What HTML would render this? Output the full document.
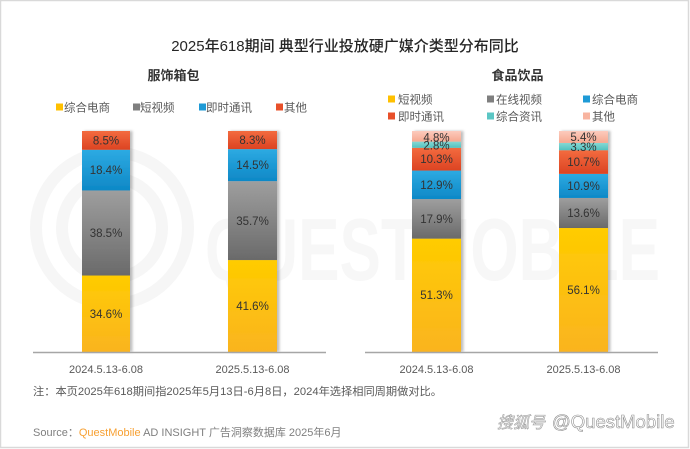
<!DOCTYPE html>
<html><head><meta charset="utf-8">
<style>
html,body{margin:0;padding:0;background:#fff;}
svg{display:block;}
text{font-family:"Liberation Sans","Noto Sans CJK SC",sans-serif;}
</style></head>
<body>
<svg width="690" height="449" viewBox="0 0 690 449" xmlns="http://www.w3.org/2000/svg">
<defs>
<linearGradient id="gy" x1="0" y1="0" x2="0" y2="1"><stop offset="0" stop-color="#FFCC00"/><stop offset="1" stop-color="#FAB420"/></linearGradient>
<linearGradient id="gg" x1="0" y1="0" x2="0" y2="1"><stop offset="0" stop-color="#9E9E9E"/><stop offset="1" stop-color="#6A6A6A"/></linearGradient>
<linearGradient id="gb" x1="0" y1="0" x2="0" y2="1"><stop offset="0" stop-color="#2DAAE2"/><stop offset="1" stop-color="#0E88C6"/></linearGradient>
<linearGradient id="gr" x1="0" y1="0" x2="0" y2="1"><stop offset="0" stop-color="#F36B3F"/><stop offset="1" stop-color="#DC4322"/></linearGradient>
<linearGradient id="gt" x1="0" y1="0" x2="0" y2="1"><stop offset="0" stop-color="#86D8D4"/><stop offset="1" stop-color="#52C2BF"/></linearGradient>
<linearGradient id="gp" x1="0" y1="0" x2="0" y2="1"><stop offset="0" stop-color="#FCCBBD"/><stop offset="1" stop-color="#F6A890"/></linearGradient>
<filter id="sh" x="-20%" y="-5%" width="150%" height="110%"><feDropShadow dx="2.5" dy="0" stdDeviation="1.2" flood-color="#000" flood-opacity="0.25"/></filter>
</defs>
<rect x="0.5" y="0.5" width="688" height="447" fill="#fff" stroke="#d9d9d9" stroke-width="1.5"/>

<!-- watermark -->
<g fill="none" stroke="#f6f6f6" stroke-width="12">
<circle cx="112" cy="228" r="76"/>
<circle cx="112" cy="228" r="50"/>
</g>
<text x="205" y="280" font-size="88" font-weight="bold" fill="#f7f7f7" textLength="455" lengthAdjust="spacingAndGlyphs">QUESTMOBILE</text>

<!-- title -->
<text x="345" y="51" font-size="15" fill="#262626" text-anchor="middle" font-weight="500">2025年618期间 典型行业投放硬广媒介类型分布同比</text>
<text x="173.5" y="80" font-size="13" font-weight="bold" fill="#333" text-anchor="middle">服饰箱包</text>
<text x="517.5" y="80" font-size="13" font-weight="bold" fill="#333" text-anchor="middle">食品饮品</text>

<!-- left legend -->
<g font-size="11.5" fill="#595959">
<rect x="56" y="103.5" width="7" height="7" fill="#FFC000"/><text x="64" y="111.5">综合电商</text>
<rect x="133" y="103.5" width="7" height="7" fill="#7F7F7F"/><text x="140" y="111.5">短视频</text>
<rect x="199" y="103.5" width="7" height="7" fill="#1E9AD6"/><text x="206" y="111.5">即时通讯</text>
<rect x="276" y="103.5" width="7" height="7" fill="#E8502A"/><text x="284" y="111.5">其他</text>
</g>
<!-- right legend -->
<g font-size="11.5" fill="#595959">
<rect x="388" y="95.5" width="7" height="7" fill="#FFC000"/><text x="398" y="103.5">短视频</text>
<rect x="487" y="95.5" width="7" height="7" fill="#7F7F7F"/><text x="496" y="103.5">在线视频</text>
<rect x="583" y="95.5" width="7" height="7" fill="#1E9AD6"/><text x="592" y="103.5">综合电商</text>
<rect x="388" y="112.5" width="7" height="7" fill="#E8502A"/><text x="398" y="120.5">即时通讯</text>
<rect x="487" y="112.5" width="7" height="7" fill="#5BC6C4"/><text x="496" y="120.5">综合资讯</text>
<rect x="583" y="112.5" width="7" height="7" fill="#F8B4A0"/><text x="592" y="120.5">其他</text>
</g>

<!-- left bars -->
<g filter="url(#sh)">
<rect x="82" y="275.53" width="48" height="76.47" fill="url(#gy)"/>
<rect x="82" y="190.45" width="48" height="85.08" fill="url(#gg)"/>
<rect x="82" y="149.78" width="48" height="40.67" fill="url(#gb)"/>
<rect x="82" y="131" width="48" height="18.78" fill="url(#gr)"/>
</g>
<g filter="url(#sh)">
<rect x="228" y="260.06" width="49" height="91.94" fill="url(#gy)"/>
<rect x="228" y="181.16" width="49" height="78.9" fill="url(#gg)"/>
<rect x="228" y="149.12" width="49" height="32.04" fill="url(#gb)"/>
<rect x="228" y="131" width="49" height="18.12" fill="url(#gr)"/>
</g>
<!-- right bars -->
<g filter="url(#sh)">
<rect x="412" y="238.63" width="49" height="113.37" fill="url(#gy)"/>
<rect x="412" y="199.07" width="49" height="39.56" fill="url(#gg)"/>
<rect x="412" y="170.56" width="49" height="28.51" fill="url(#gb)"/>
<rect x="412" y="147.8" width="49" height="22.76" fill="url(#gr)"/>
<rect x="412" y="141.61" width="49" height="6.19" fill="url(#gt)"/>
<rect x="412" y="131" width="49" height="10.61" fill="url(#gp)"/>
</g>
<g filter="url(#sh)">
<rect x="559" y="228.02" width="49" height="123.98" fill="url(#gy)"/>
<rect x="559" y="197.96" width="49" height="30.06" fill="url(#gg)"/>
<rect x="559" y="173.87" width="49" height="24.09" fill="url(#gb)"/>
<rect x="559" y="150.22" width="49" height="23.65" fill="url(#gr)"/>
<rect x="559" y="142.93" width="49" height="7.29" fill="url(#gt)"/>
<rect x="559" y="131" width="49" height="11.93" fill="url(#gp)"/>
</g>

<!-- bar labels -->
<g font-size="11.5" fill="#333" text-anchor="middle">
<text x="106" y="144.5">8.5%</text>
<text x="106" y="174">18.4%</text>
<text x="106" y="237">38.5%</text>
<text x="106" y="318">34.6%</text>
<text x="252.5" y="144">8.3%</text>
<text x="252.5" y="169">14.5%</text>
<text x="252.5" y="225">35.7%</text>
<text x="252.5" y="310">41.6%</text>

<text x="436.5" y="141.5">4.8%</text>
<text x="436.5" y="149.5">2.8%</text>
<text x="436.5" y="163">10.3%</text>
<text x="436.5" y="189">12.9%</text>
<text x="436.5" y="223">17.9%</text>
<text x="436.5" y="299">51.3%</text>

<text x="583.5" y="141">5.4%</text>
<text x="583.5" y="151">3.3%</text>
<text x="583.5" y="166">10.7%</text>
<text x="583.5" y="190">10.9%</text>
<text x="583.5" y="217">13.6%</text>
<text x="583.5" y="294">56.1%</text>
</g>

<!-- axes -->
<line x1="33" y1="352.5" x2="326" y2="352.5" stroke="#a6a6a6" stroke-width="1.5"/>
<line x1="365" y1="352.5" x2="658" y2="352.5" stroke="#a6a6a6" stroke-width="1.5"/>
<g font-size="11" fill="#595959" text-anchor="middle">
<text x="106" y="373">2024.5.13-6.08</text>
<text x="252.5" y="373">2025.5.13-6.08</text>
<text x="436.5" y="373">2024.5.13-6.08</text>
<text x="583.5" y="373">2025.5.13-6.08</text>
</g>

<!-- notes -->
<text x="33" y="395" font-size="11" fill="#595959" textLength="409" lengthAdjust="spacingAndGlyphs">注：本页2025年618期间指2025年5月13日-6月8日，2024年选择相同周期做对比。</text>
<text x="33" y="436" font-size="11" fill="#7f7f7f">Source：<tspan fill="#F7A032">QuestMobile</tspan> AD INSIGHT 广告洞察数据库 2025年6月</text>

<!-- bottom watermark -->
<text x="497" y="428" font-size="16" font-style="italic" fill="#fff" stroke="#a0a0a0" stroke-width="0.6">搜狐号</text>
<text x="552" y="428" font-size="18.5" fill="#fff" stroke="#8f8f8f" stroke-width="0.6">@QuestMobile</text>
</svg>
</body></html>
